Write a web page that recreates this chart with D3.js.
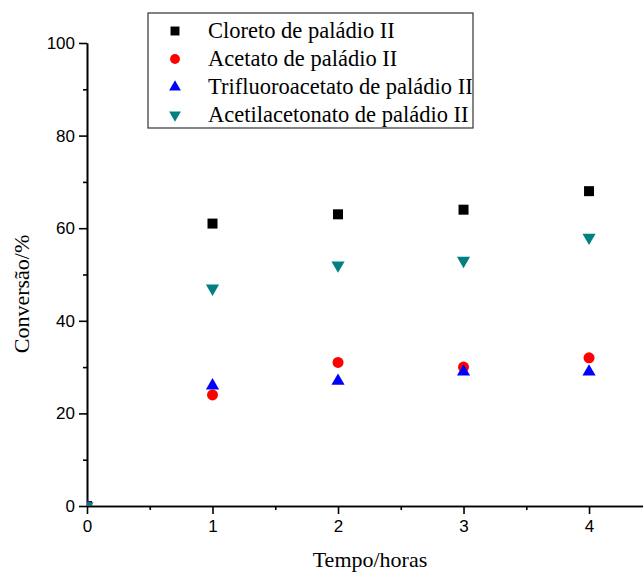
<!DOCTYPE html>
<head>
    <meta charset="utf-8">
    <title>Conversão</title>
    <script type="text/javascript" src="https://d3js.org/d3.v7.min.js"></script>
    <style>
        body { margin: 0; background: #fff; }
        .axis text { font-family: "Liberation Sans", Arial, sans-serif; font-size: 17px; fill: #000; }
        .axis path, .axis line { stroke: #000; stroke-width: 1.6; }
        .label { font-family: "Liberation Serif", "Times New Roman", serif; font-size: 22px; fill: #000; }
        .legend-text { font-family: "Liberation Serif", "Times New Roman", serif; font-size: 22.5px; fill: #000; }
    </style>
</head>
<body>
<div id="container"></div>
<script>
    //-----------------------------DATA------------------------------//
    const tempos = [0, 1, 2, 3, 4];
    const cloreto = [0, 61, 63, 64, 68];
    const acetato = [0, 24, 31, 30, 32];
    const trifluoroacetato = [0, 26, 27, 29, 29];
    const acetilacetonato = [0, 47, 52, 53, 58];
    const seriesNames = ["Cloreto de paládio II", "Acetato de paládio II",
        "Trifluoroacetato de paládio II", "Acetilacetonato de paládio II"];
    const xTicks = [0, 1, 2, 3, 4];
    const yTicks = [0, 20, 40, 60, 80, 100];

    const series = [
        {name: seriesNames[0], values: cloreto, symbol: d3.symbolSquare, color: "#000000", size: 100, rot: 0},
        {name: seriesNames[1], values: acetato, symbol: d3.symbolCircle, color: "#ff0000", size: 95, rot: 0},
        {name: seriesNames[2], values: trifluoroacetato, symbol: d3.symbolTriangle, color: "#0000ff", size: 75, rot: 0},
        {name: seriesNames[3], values: acetilacetonato, symbol: d3.symbolTriangle, color: "#008080", size: 75, rot: 180}
    ];

    //-----------------------------SVG-------------------------------//
    const width = 643, height = 572;
    const margin = {top: 43, right: 0, bottom: 66, left: 87};

    const svg = d3.select("div#container").append("svg")
        .attr("width", width)
        .attr("height", height);

    //----------------------------SCALES-----------------------------//
    const xScale = d3.scaleLinear().domain([0, 4.43]).range([margin.left, width - margin.right]);
    const yScale = d3.scaleLinear().domain([0, 100]).range([height - margin.bottom, margin.top]);

    // markers are clipped to the plotting area, like the ones sitting on the origin
    svg.append("clipPath").attr("id", "plot-clip")
        .append("rect")
        .attr("x", margin.left).attr("y", 0)
        .attr("width", width - margin.left).attr("height", yScale(0));

    //-----------------------------AXES------------------------------//
    const xaxis = d3.axisBottom(xScale).tickValues(xTicks).tickFormat(d3.format("d"))
        .tickSize(8).tickPadding(6).tickSizeOuter(0);
    const xminor = d3.axisBottom(xScale).tickValues([0.5, 1.5, 2.5, 3.5]).tickSize(4)
        .tickFormat("").tickSizeOuter(0);
    const yaxis = d3.axisLeft(yScale).tickValues(yTicks).tickSize(8).tickPadding(4).tickSizeOuter(0);
    const yminor = d3.axisLeft(yScale).tickValues([10, 30, 50, 70, 90]).tickSize(4)
        .tickFormat("").tickSizeOuter(0);

    svg.append("g").attr("class", "axis")
        .attr("transform", `translate(0, ${yScale(0)})`)
        .call(xminor);
    svg.append("g").attr("class", "axis")
        .attr("transform", `translate(0, ${yScale(0)})`)
        .call(xaxis);
    svg.append("g").attr("class", "axis")
        .attr("transform", `translate(${margin.left}, 0)`)
        .call(yminor);
    svg.append("g").attr("class", "axis")
        .attr("transform", `translate(${margin.left}, 0)`)
        .call(yaxis);

    svg.append("text").attr("class", "label")
        .attr("x", 370).attr("y", 567)
        .attr("text-anchor", "middle")
        .text("Tempo/horas");

    svg.append("text").attr("class", "label")
        .attr("transform", "translate(29, 294) rotate(-90)")
        .attr("text-anchor", "middle")
        .text("Conversão/%");

    //----------------------------POINTS-----------------------------//
    const points = svg.append("g").attr("clip-path", "url(#plot-clip)");
    series.forEach(function(s) {
        points.append("g").selectAll("path")
            .data(s.values)
            .enter()
            .append("path")
            .attr("d", d3.symbol().type(s.symbol).size(s.size))
            .attr("fill", s.color)
            .attr("transform", (d, i) => `translate(${xScale(tempos[i])}, ${yScale(d)}) rotate(${s.rot})`);
    });

    //----------------------------LEGEND-----------------------------//
    const legend = svg.append("g").attr("transform", "translate(148, 13)");
    legend.append("rect")
        .attr("width", 325).attr("height", 115)
        .attr("fill", "none").attr("stroke", "#333").attr("stroke-width", 1.2);

    series.forEach(function(s, i) {
        const y = 18 + i * 28;
        legend.append("path")
            .attr("d", d3.symbol().type(s.symbol).size(s.size * 0.8))
            .attr("fill", s.color)
            .attr("transform", `translate(27, ${y}) rotate(${s.rot})`);
        legend.append("text").attr("class", "legend-text")
            .attr("x", 60).attr("y", y + 7)
            .text(s.name);
    });
</script>
</body>
